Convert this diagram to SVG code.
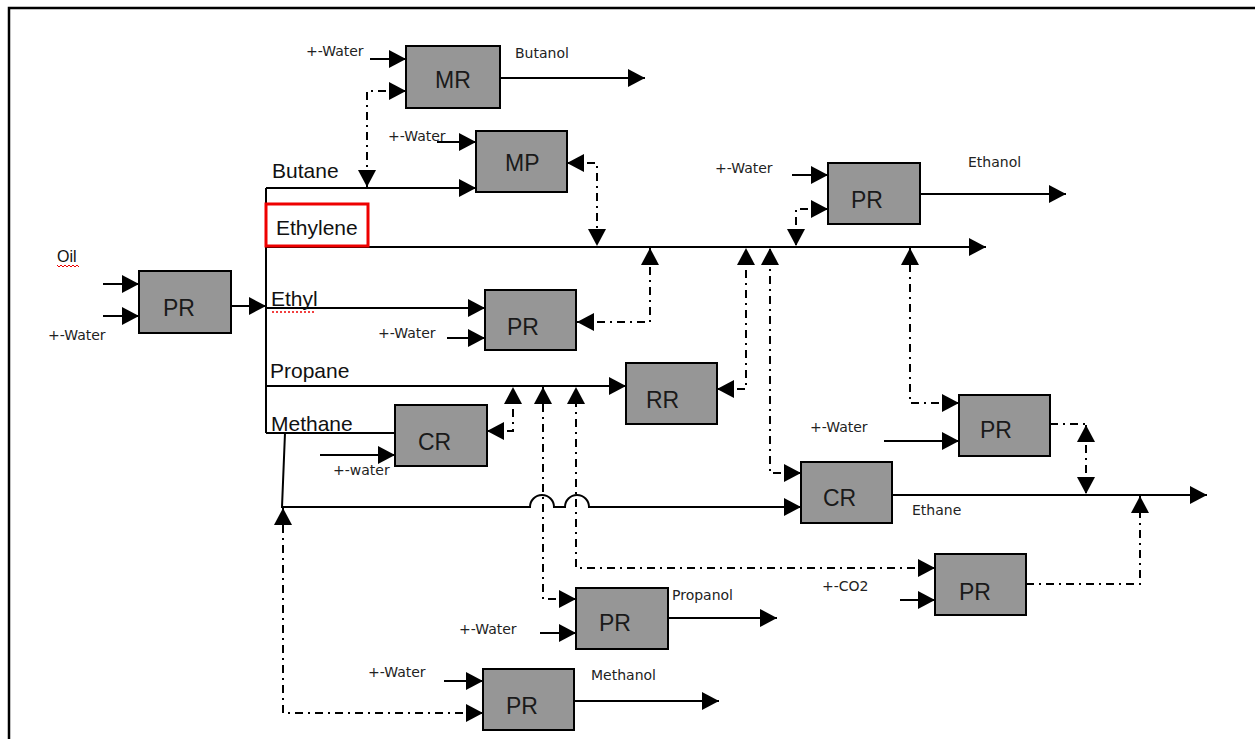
<svg xmlns="http://www.w3.org/2000/svg" width="1255" height="739" viewBox="0 0 1255 739">
<style>
.box{fill:#969696;stroke:#000;stroke-width:2}
.bl{font-family:"Liberation Sans",Arial,sans-serif;font-size:23px;fill:#1a1a1a}
.big{font-family:"Liberation Sans",Arial,sans-serif;font-size:21px;fill:#111}
.sm{font-family:"DejaVu Sans",Verdana,sans-serif;font-size:14px;fill:#222}
.ln{fill:none;stroke:#000;stroke-width:2}
.dd{fill:none;stroke:#000;stroke-width:2;stroke-dasharray:8 5 2 5}
</style>
<defs>
<marker id="ah" viewBox="0 0 17 18" markerUnits="userSpaceOnUse" markerWidth="17" markerHeight="18" refX="17" refY="9" orient="auto-start-reverse"><path d="M0,0 L17,9 L0,18 z" fill="#000"/></marker>
</defs>
<rect width="1255" height="739" fill="#fff"/>
<path d="M9,739 V8 H1255" fill="none" stroke="#000" stroke-width="2.5"/>

<g id="connectors">
<path class="ln" d="M103,284 H139" marker-end="url(#ah)"/>
<path class="ln" d="M103,316 H139" marker-end="url(#ah)"/>
<path class="ln" d="M231,306 H266" marker-end="url(#ah)"/>
<path class="ln" d="M266,188 V433"/>
<path class="ln" d="M266,188 H476" marker-end="url(#ah)"/>
<path class="ln" d="M266,247 H986" marker-end="url(#ah)"/>
<path class="ln" d="M266,308 H485" marker-end="url(#ah)"/>
<path class="ln" d="M266,386 H626" marker-end="url(#ah)"/>
<path class="ln" d="M266,433 H395"/>
<path class="ln" d="M285,433 L282,507 H530 A12,12 0 0 1 554,507 H565 A12,12 0 0 1 589,507 H801" marker-end="url(#ah)"/>
<path class="ln" d="M370,59 H406" marker-end="url(#ah)"/>
<path class="ln" d="M500,78 H645" marker-end="url(#ah)"/>
<path class="ln" d="M437,142 H476" marker-end="url(#ah)"/>
<path class="ln" d="M792,175 H828" marker-end="url(#ah)"/>
<path class="ln" d="M920,194 H1066" marker-end="url(#ah)"/>
<path class="ln" d="M447,338 H485" marker-end="url(#ah)"/>
<path class="ln" d="M320,455 H395" marker-end="url(#ah)"/>
<path class="ln" d="M884,441 H959" marker-end="url(#ah)"/>
<path class="ln" d="M892,495 H1207" marker-end="url(#ah)"/>
<path class="ln" d="M900,600 H935" marker-end="url(#ah)"/>
<path class="ln" d="M540,633 H576" marker-end="url(#ah)"/>
<path class="ln" d="M668,618 H777" marker-end="url(#ah)"/>
<path class="ln" d="M444,681 H483" marker-end="url(#ah)"/>
<path class="ln" d="M574,701 H719" marker-end="url(#ah)"/>

<path class="dd" d="M406,91 H367 V187" marker-start="url(#ah)" marker-end="url(#ah)"/>
<path class="dd" d="M567,163 H597 V246" marker-start="url(#ah)" marker-end="url(#ah)"/>
<path class="dd" d="M577,322 H650 V248" marker-start="url(#ah)" marker-end="url(#ah)"/>
<path class="dd" d="M717,389 H746 V248" marker-start="url(#ah)" marker-end="url(#ah)"/>
<path class="dd" d="M801,473 H770 V248" marker-start="url(#ah)" marker-end="url(#ah)"/>
<path class="dd" d="M828,209 H796 V246" marker-start="url(#ah)" marker-end="url(#ah)"/>
<path class="dd" d="M959,403 H910 V248" marker-start="url(#ah)" marker-end="url(#ah)"/>
<path class="dd" d="M1050,424 H1086"/>
<path class="dd" d="M1086,425 V494" marker-start="url(#ah)" marker-end="url(#ah)"/>
<path class="dd" d="M1026,584 H1140 V496" marker-end="url(#ah)"/>
<path class="dd" d="M487,431 H513 V387" marker-start="url(#ah)" marker-end="url(#ah)"/>
<path class="dd" d="M576,599 H543 V387" marker-start="url(#ah)" marker-end="url(#ah)"/>
<path class="dd" d="M935,568 H576 V387" marker-start="url(#ah)" marker-end="url(#ah)"/>
<path class="dd" d="M483,713 H283 V508" marker-start="url(#ah)" marker-end="url(#ah)"/>
</g>

<g id="labels">
<text class="big" x="57" y="262" style="font-size:16px">Oil</text>
<path d="M57,265 l2,2 l2,-2 l2,2 l2,-2 l2,2 l2,-2 l2,2 l2,-2 l2,2 l2,-2 l2,2" fill="none" stroke="#e00" stroke-width="1"/>
<text class="sm" x="48" y="340">+-Water</text>
<text class="big" x="272" y="178">Butane</text>
<rect x="266" y="204" width="102" height="42" fill="none" stroke="#e00" stroke-width="3"/>
<text class="big" x="276" y="235">Ethylene</text>
<text class="big" x="271" y="306">Ethyl</text>
<path d="M272,312 H316" stroke="#e00" stroke-width="1.5" stroke-dasharray="2 2" fill="none"/>
<text class="big" x="270" y="378">Propane</text>
<text class="big" x="271" y="431">Methane</text>
<text class="sm" x="306" y="56">+-Water</text>
<text class="sm" x="515" y="58">Butanol</text>
<text class="sm" x="388" y="141">+-Water</text>
<text class="sm" x="715" y="173">+-Water</text>
<text class="sm" x="968" y="167">Ethanol</text>
<text class="sm" x="378" y="338">+-Water</text>
<text class="sm" x="333" y="475">+-water</text>
<text class="sm" x="810" y="432">+-Water</text>
<text class="sm" x="912" y="515">Ethane</text>
<text class="sm" x="822" y="591">+-CO2</text>
<text class="sm" x="672" y="600">Propanol</text>
<text class="sm" x="459" y="634">+-Water</text>
<text class="sm" x="368" y="677">+-Water</text>
<text class="sm" x="591" y="680">Methanol</text>
</g>

<g id="n_pr_oil"><rect class="box" x="139" y="271" width="92" height="62"/><text class="bl" x="163" y="316">PR</text></g>
<g id="n_mr"><rect class="box" x="406" y="46" width="94" height="62"/><text class="bl" x="435" y="88">MR</text></g>
<g id="n_mp"><rect class="box" x="476" y="131" width="91" height="61"/><text class="bl" x="505" y="171">MP</text></g>
<g id="n_pr_ethanol"><rect class="box" x="828" y="163" width="92" height="61"/><text class="bl" x="851" y="208">PR</text></g>
<g id="n_pr_ethyl"><rect class="box" x="485" y="290" width="91" height="60"/><text class="bl" x="507" y="335">PR</text></g>
<g id="n_rr"><rect class="box" x="626" y="363" width="91" height="61"/><text class="bl" x="646" y="408">RR</text></g>
<g id="n_cr_methane"><rect class="box" x="395" y="405" width="92" height="61"/><text class="bl" x="418" y="450">CR</text></g>
<g id="n_pr_right"><rect class="box" x="959" y="395" width="91" height="61"/><text class="bl" x="980" y="438">PR</text></g>
<g id="n_cr_ethane"><rect class="box" x="801" y="462" width="91" height="61"/><text class="bl" x="823" y="506">CR</text></g>
<g id="n_pr_co2"><rect class="box" x="935" y="554" width="91" height="61"/><text class="bl" x="959" y="600">PR</text></g>
<g id="n_pr_propanol"><rect class="box" x="576" y="588" width="92" height="61"/><text class="bl" x="599" y="631">PR</text></g>
<g id="n_pr_methanol"><rect class="box" x="483" y="669" width="91" height="61"/><text class="bl" x="506" y="714">PR</text></g>
</svg>
